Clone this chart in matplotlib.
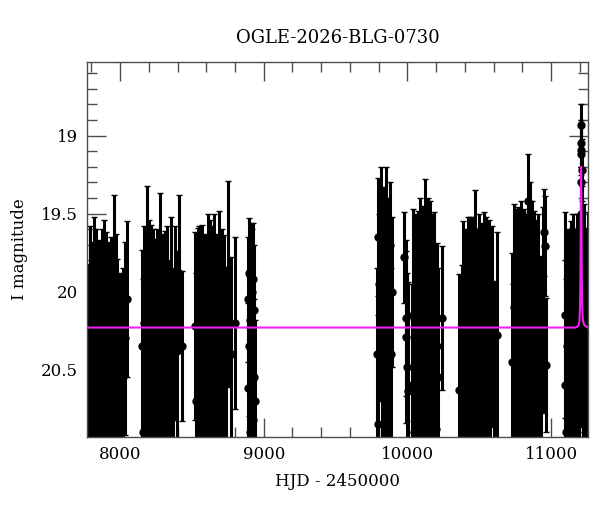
import matplotlib
matplotlib.use("Agg")
import matplotlib.pyplot as plt
from matplotlib.ticker import MultipleLocator, FuncFormatter

plt.rcParams['font.family'] = 'DejaVu Serif'
plt.rcParams['font.size'] = 12

# season 1
t1 = [7786, 7793, 7799, 7806, 7813, 7820, 7827, 7834, 7841, 7848, 7855, 7862, 7869, 7876, 7884, 7891, 7898,
      7905, 7912, 7920, 7927, 7934, 7942, 7949, 7956, 7964, 7972, 7981, 7991, 8003, 8018, 8035, 8050]
m1 = [20.62, 20.20, 20.95, 20.30, 21.08, 20.18, 20.55, 20.15, 20.88, 20.35, 20.25, 21.15, 20.48, 20.20, 20.70, 20.22, 21.05,
      20.22, 20.58, 20.30, 20.82, 20.25, 20.42, 21.02, 19.90, 20.65, 20.25, 20.45, 20.78, 20.50, 20.55, 20.30, 20.05]
e1 = [0.80, 0.62, 1.00, 0.62, 1.12, 0.66, 0.70, 0.55, 0.95, 0.62, 0.58, 1.15, 0.66, 0.60, 0.85, 0.68, 1.10,
      0.60, 0.72, 0.62, 0.92, 0.60, 0.65, 1.08, 0.52, 0.78, 0.62, 0.66, 0.88, 0.62, 0.70, 0.62, 0.50]

# season 2
t2 = [8155, 8162, 8168, 8175, 8182, 8189, 8196, 8203, 8210, 8217, 8224, 8232, 8239, 8246, 8253, 8260, 8268,
      8275, 8282, 8290, 8297, 8304, 8312, 8320, 8328, 8336, 8345, 8355, 8366, 8380, 8395, 8412, 8433]
m2 = [20.35, 20.90, 20.20, 21.12, 20.45, 20.00, 20.75, 20.20, 21.00, 20.15, 20.55, 20.22, 20.85, 20.30, 21.10, 20.20, 20.62,
      19.95, 20.40, 20.95, 20.25, 20.68, 20.25, 21.05, 20.18, 20.50, 20.80, 20.18, 20.60, 20.20, 20.38, 19.88, 20.35]
e2 = [0.62, 0.98, 0.62, 1.15, 0.68, 0.68, 0.85, 0.66, 1.05, 0.58, 0.72, 0.62, 0.92, 0.64, 1.12, 0.60, 0.78,
      0.58, 0.66, 1.00, 0.62, 0.80, 0.64, 1.10, 0.60, 0.70, 0.90, 0.66, 0.75, 0.62, 0.64, 0.50, 0.48]

# season 3
t3 = [8520, 8527, 8534, 8541, 8548, 8555, 8562, 8569, 8576, 8584, 8591, 8598, 8605, 8612, 8620, 8627, 8634,
      8641, 8649, 8656, 8663, 8670, 8678, 8685, 8692, 8700, 8708, 8716, 8725, 8735, 8748, 8770, 8798]
m3 = [20.22, 20.70, 20.98, 20.25, 20.18, 21.10, 20.48, 20.15, 20.85, 20.30, 20.25, 21.05, 20.55, 20.12, 20.72, 20.20, 20.95,
      20.20, 20.40, 20.15, 20.88, 20.25, 20.62, 21.15, 20.10, 20.45, 20.22, 20.80, 20.28, 20.58, 19.95, 20.40, 20.20]
e3 = [0.60, 0.82, 1.02, 0.66, 0.60, 1.12, 0.68, 0.58, 0.92, 0.64, 0.62, 1.08, 0.72, 0.62, 0.82, 0.66, 1.00,
      0.62, 0.66, 0.65, 0.95, 0.62, 0.78, 1.15, 0.62, 0.68, 0.62, 0.88, 0.64, 0.74, 0.66, 0.62, 0.55]

# season 4 (short)
t4 = [8891, 8894, 8897, 8900, 8903, 8906, 8909, 8912, 8915, 8918, 8921, 8924, 8927, 8930, 8933, 8936]
m4 = [20.05, 20.62, 19.88, 20.35, 20.90, 20.18, 19.80, 20.48, 20.75, 20.00, 20.28, 20.82, 19.92, 20.55, 20.12, 20.70]
e4 = [0.40, 0.55, 0.35, 0.45, 0.60, 0.42, 0.24, 0.50, 0.55, 0.40, 0.45, 0.58, 0.36, 0.50, 0.42, 0.52]

# season 5 (short)
t5 = [9786, 9792, 9798, 9803, 9809, 9815, 9820, 9826, 9832, 9838, 9843, 9849, 9855, 9861, 9867, 9873, 9879, 9886, 9892]
m5 = [20.40, 19.65, 20.85, 19.95, 20.20, 19.55, 20.65, 20.05, 19.75, 20.95, 20.30, 19.60, 20.50, 19.85, 20.75, 20.10,
      19.70, 20.40, 20.00]
e5 = [0.55, 0.38, 0.70, 0.45, 0.50, 0.35, 0.60, 0.48, 0.42, 0.75, 0.52, 0.40, 0.58, 0.45, 0.65, 0.50, 0.40, 0.55, 0.48]

# season 6
t6 = [9978, 9990, 9993, 9997, 10001, 10035, 10041, 10047, 10053, 10059, 10065, 10071, 10077, 10083, 10089, 10095, 10101,
      10107, 10113, 10119, 10125, 10131, 10137, 10143, 10149, 10155, 10161, 10167, 10174, 10181, 10188, 10196, 10205,
      10214, 10240]
m6 = [19.78, 20.17, 20.29, 20.48, 20.64, 20.60, 20.15, 20.90, 20.35, 20.10, 21.05, 20.45, 20.10, 20.78, 20.02, 20.55, 21.10,
      20.05, 20.30, 20.85, 19.85, 20.40, 20.95, 20.00, 20.60, 20.10, 21.00, 20.25, 20.12, 20.70, 20.15, 20.88, 20.35,
      20.55, 20.17]
e6 = [0.29, 0.50, 0.55, 0.60, 0.70, 0.65, 0.68, 0.95, 0.66, 0.60, 1.10, 0.70, 0.62, 0.90, 0.62, 0.74, 1.12,
      0.60, 0.66, 0.95, 0.57, 0.68, 1.00, 0.60, 0.76, 0.68, 1.05, 0.66, 0.62, 0.84, 0.66, 0.96, 0.66,
      0.70, 0.46]

# season 7
t7 = [10356, 10382, 10388, 10394, 10400, 10406, 10412, 10418, 10424, 10430, 10436, 10442, 10448, 10455, 10461, 10467,
      10473, 10479, 10485, 10491, 10497, 10503, 10510, 10516, 10522, 10528, 10535, 10542, 10550, 10558, 10567, 10577,
      10590, 10605, 10622]
m7 = [20.63, 20.55, 20.15, 20.85, 20.30, 20.20, 21.08, 20.40, 20.10, 20.70, 20.18, 21.00, 20.08, 20.50, 20.25, 20.92,
      19.85, 20.62, 20.22, 21.12, 20.10, 20.45, 20.80, 20.18, 20.35, 20.98, 20.15, 20.58, 20.12, 20.75, 20.20, 20.45,
      20.20, 20.85, 20.28]
e7 = [0.74, 0.72, 0.60, 0.92, 0.66, 0.60, 1.10, 0.66, 0.58, 0.82, 0.66, 1.02, 0.56, 0.70, 0.66, 0.96,
      0.50, 0.76, 0.62, 1.15, 0.60, 0.68, 0.88, 0.62, 0.64, 1.02, 0.66, 0.74, 0.60, 0.85, 0.66, 0.68,
      0.62, 0.92, 0.66]

# season 8
t8 = [10731, 10737, 10743, 10749, 10755, 10761, 10767, 10773, 10779, 10785, 10791, 10797, 10803, 10809, 10815, 10821,
      10827, 10833, 10841, 10847, 10853, 10859, 10866, 10873, 10880, 10887, 10895, 10903, 10912, 10921, 10931, 10942,
      10953, 10960, 10968]
m8 = [20.45, 20.95, 20.10, 20.62, 20.05, 20.85, 20.28, 20.02, 21.05, 20.40, 19.98, 20.70, 20.15, 21.10, 20.05, 20.50,
      20.10, 20.88, 19.42, 20.30, 19.88, 20.75, 20.08, 21.00, 20.08, 20.55, 20.20, 20.90, 20.10, 20.45, 20.65, 20.12,
      19.62, 19.71, 20.47]
e8 = [0.70, 1.00, 0.66, 0.78, 0.58, 0.92, 0.66, 0.56, 1.10, 0.66, 0.56, 0.82, 0.66, 1.12, 0.58, 0.70,
      0.60, 0.95, 0.30, 0.66, 0.58, 0.86, 0.66, 1.05, 0.60, 0.72, 0.66, 0.96, 0.60, 0.68, 0.80, 0.66,
      0.28, 0.32, 0.43]

# season 9 with the event
t9 = [11094, 11100, 11106, 11112, 11118, 11124, 11130, 11136, 11142, 11148, 11154, 11160, 11166, 11172, 11178, 11184,
      11190, 11196, 11200, 11203, 11206, 11207, 11208, 11209, 11210, 11211, 11212, 11214, 11217, 11221, 11226, 11232,
      11238, 11244, 11250, 11255]
m9 = [20.60, 20.15, 20.90, 20.35, 20.15, 21.00, 20.45, 20.10, 20.70, 20.25, 20.05, 20.88, 20.40, 20.15, 20.65, 20.05,
      20.30, 20.85, 20.20, 20.00, 19.50, 19.30, 19.12, 18.93, 19.05, 19.09, 19.22, 19.60, 19.95, 20.40, 20.10, 20.75,
      20.25, 20.95, 20.45, 20.15]
e9 = [0.80, 0.66, 0.98, 0.66, 0.55, 1.05, 0.70, 0.55, 0.85, 0.66, 0.55, 0.95, 0.66, 0.55, 0.80, 0.55,
      0.66, 0.92, 0.66, 0.50, 0.30, 0.25, 0.18, 0.13, 0.15, 0.16, 0.20, 0.28, 0.40, 0.60, 0.66, 0.85,
      0.66, 0.95, 0.72, 0.66]

# model curve
t_model = [7772, 11170, 11190, 11197, 11201, 11204, 11206, 11208, 11209, 11210, 11212, 11214, 11217, 11221, 11228,
           11240, 11257]
m_model = [20.23, 20.23, 20.22, 20.19, 20.12, 19.95, 19.70, 19.35, 19.20, 19.30, 19.65, 19.92, 20.10, 20.18, 20.21,
           20.22, 20.23]

seasons = [(t1, m1, e1), (t2, m2, e2), (t3, m3, e3), (t4, m4, e4), (t5, m5, e5),
           (t6, m6, e6), (t7, m7, e7), (t8, m8, e8), (t9, m9, e9)]

fig = plt.figure(figsize=(6, 5.12), dpi=100)
ax = fig.add_axes([0.1455, 0.147, 0.834, 0.7313])

for t, m, e in seasons:
    ax.errorbar(t, m, yerr=e, fmt='o', color='black', ms=5, ecolor='black',
                elinewidth=2.2, capsize=2.5, capthick=1.0)

ax.plot(t_model, m_model, color='#f020f0', lw=1.5, zorder=5)

ax.set_xlim(7772, 11255)
ax.set_ylim(20.93, 18.53)

ax.xaxis.set_major_locator(MultipleLocator(1000))
ax.xaxis.set_minor_locator(MultipleLocator(200))
ax.yaxis.set_major_locator(MultipleLocator(0.5))
ax.yaxis.set_minor_locator(MultipleLocator(0.1))
ax.yaxis.set_major_formatter(FuncFormatter(lambda v, p: '%g' % v))
ax.tick_params(which='both', direction='in', top=True, right=True, color='0.3', width=1.0)
ax.tick_params(which='major', length=14, pad=7)
ax.tick_params(which='minor', length=7)
for s in ax.spines.values():
    s.set_color('0.3')
    s.set_linewidth(1.0)

ax.set_title('OGLE-2026-BLG-0730', fontsize=13, pad=14)
ax.set_xlabel('HJD - 2450000', labelpad=7)
ax.set_ylabel('I magnitude', labelpad=9)

fig.savefig('out.png', dpi=100)
